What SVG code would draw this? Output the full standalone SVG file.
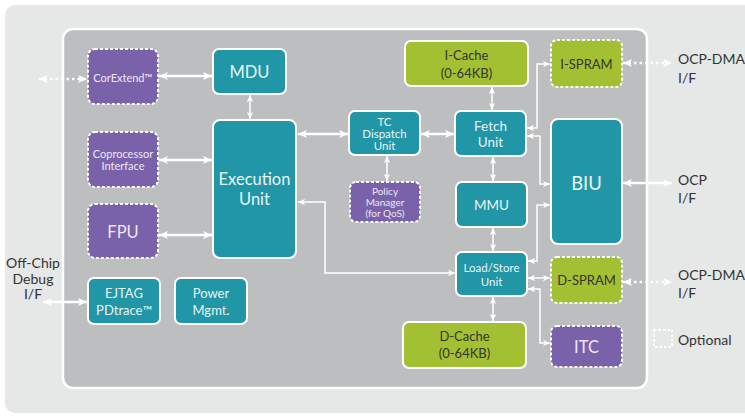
<svg xmlns="http://www.w3.org/2000/svg" width="745" height="417" viewBox="0 0 745 417">
<defs>
<style>
.t{font-family:Lato,"Open Sans","Liberation Sans",sans-serif;text-anchor:middle;dominant-baseline:central}
.lbl{font-family:Lato,"Open Sans","Liberation Sans",sans-serif;fill:#333;font-size:14px;dominant-baseline:central}
.teal{fill:#2196a6;stroke:#fff;stroke-width:2}
.purple{fill:#7962aa;stroke:#fff;stroke-width:2;stroke-dasharray:3 2}
.green{fill:#a3c032;stroke:#fff;stroke-width:2}
.greend{fill:#a3c032;stroke:#fff;stroke-width:2;stroke-dasharray:3 2}
.tw{fill:#e8f5f6}
.tp{fill:#ece7f5}
.td{fill:#333}
.thick{fill:none;stroke:#fff;stroke-width:2.5;marker-start:url(#ah);marker-end:url(#ah)}
.thin{fill:none;stroke:#fff;stroke-width:1.5;marker-start:url(#as);marker-end:url(#as)}
.dot{fill:none;stroke:#fff;stroke-width:2.5;stroke-dasharray:2.5 3;marker-start:url(#ah);marker-end:url(#ah)}
</style>
<marker id="ah" viewBox="0 0 10 10" refX="10" refY="5" markerWidth="9" markerHeight="9" markerUnits="userSpaceOnUse" orient="auto-start-reverse"><path d="M0,0.5 L10,5 L0,9.5 L2.5,5 z" fill="#fff"/></marker>
<marker id="as" viewBox="0 0 10 10" refX="10" refY="5" markerWidth="7" markerHeight="7" markerUnits="userSpaceOnUse" orient="auto-start-reverse"><path d="M0,0.5 L10,5 L0,9.5 L2.5,5 z" fill="#fff"/></marker>
</defs>
<rect x="0" y="0" width="745" height="417" fill="#fff"/>
<rect x="5" y="5" width="750" height="408" rx="10" fill="#e6e7e7"/>
<rect x="63" y="29" width="584" height="359" rx="10" fill="#bdbec0" stroke="#fff" stroke-width="2.5"/>

<g id="connectors">
<path class="dot" d="M39,79 H87"/>
<path class="thick" d="M159,76 H212"/>
<path class="thin" d="M250,95 V119"/>
<path class="thick" d="M159,160 H212"/>
<path class="thick" d="M159,235 H212"/>
<path class="thick" d="M43,302 H87"/>
<path class="thick" d="M298,134 H348"/>
<path class="thick" d="M421,134 H454"/>
<path class="thin" d="M492,87 V110"/>
<path class="thin" d="M387,156 V181"/>
<path class="thin" d="M493,157 V181"/>
<path class="thin" d="M493,228 V251"/>
<path class="thin" d="M493,297 V321"/>
<path class="thin" d="M455,273 H325 V202 H298"/>
<path class="thin" d="M527,128 H537 V64 H550"/>
<path class="thin" d="M527,136 H540 V184 H550"/>
<path class="thin" d="M528,261 H537 V205 H550"/>
<path class="thin" d="M528,278 H550"/>
<path class="thin" d="M528,289 H540 V343 H550"/>
<path class="dot" d="M623,63 H672"/>
<path class="thick" d="M623,183 H672"/>
<path class="dot" d="M623,282 H672"/>
</g>

<g id="corextend"><rect class="purple" x="88" y="49" width="70" height="55" rx="7"/><text class="t tp" x="123" y="77" font-size="11">CorExtend™</text></g>
<g id="mdu"><rect class="teal" x="213" y="49" width="73" height="45" rx="6"/><text class="t tw" x="249.5" y="72" font-size="16.5">MDU</text></g>
<g id="coprocessor"><rect class="purple" x="88" y="132" width="70" height="55" rx="7"/><text class="t tp" x="123" y="153" font-size="11">Coprocessor</text><text class="t tp" x="123" y="165" font-size="11">Interface</text></g>
<g id="fpu"><rect class="purple" x="88" y="204" width="70" height="54" rx="7"/><text class="t tp" x="123" y="232" font-size="16.5">FPU</text></g>
<g id="execution"><rect class="teal" x="213" y="120" width="83" height="138" rx="7"/><text class="t tw" x="254.5" y="179" font-size="16.5">Execution</text><text class="t tw" x="254.5" y="199" font-size="16.5">Unit</text></g>
<g id="ejtag"><rect class="teal" x="88" y="278" width="72" height="46" rx="6"/><text class="t tw" x="124" y="293" font-size="13">EJTAG</text><text class="t tw" x="124" y="310" font-size="13">PDtrace™</text></g>
<g id="power"><rect class="teal" x="175" y="278" width="72" height="46" rx="6"/><text class="t tw" x="211" y="293" font-size="13">Power</text><text class="t tw" x="211" y="310" font-size="13">Mgmt.</text></g>
<g id="tcdispatch"><rect class="teal" x="349" y="111" width="71" height="44" rx="6"/><text class="t tw" x="384.5" y="121" font-size="11.5">TC</text><text class="t tw" x="384.5" y="133" font-size="11.5">Dispatch</text><text class="t tw" x="384.5" y="145" font-size="11.5">Unit</text></g>
<g id="policy"><rect class="purple" x="350" y="182" width="70" height="40" rx="6"/><text class="t tp" x="385" y="191" font-size="10">Policy</text><text class="t tp" x="385" y="202" font-size="10">Manager</text><text class="t tp" x="385" y="212.5" font-size="10">(for QoS)</text></g>
<g id="icache"><rect class="green" x="405" y="41" width="123" height="45" rx="6"/><text class="t td" x="466.5" y="55" font-size="13">I-Cache</text><text class="t td" x="466.5" y="73" font-size="13">(0-64KB)</text></g>
<g id="fetch"><rect class="teal" x="455" y="111" width="71" height="45" rx="6"/><text class="t tw" x="490.5" y="126" font-size="13.5">Fetch</text><text class="t tw" x="490.5" y="142" font-size="13.5">Unit</text></g>
<g id="mmu"><rect class="teal" x="456" y="182" width="71" height="45" rx="6"/><text class="t tw" x="491.5" y="205" font-size="13.5">MMU</text></g>
<g id="loadstore"><rect class="teal" x="456" y="252" width="71" height="44" rx="6"/><text class="t tw" x="491.5" y="267" font-size="11.5">Load/Store</text><text class="t tw" x="491.5" y="281" font-size="11.5">Unit</text></g>
<g id="dcache"><rect class="green" x="403" y="322" width="123" height="46" rx="6"/><text class="t td" x="464.5" y="336" font-size="13">D-Cache</text><text class="t td" x="464.5" y="353" font-size="13">(0-64KB)</text></g>
<g id="ispram"><rect class="greend" x="551" y="40" width="71" height="47" rx="6"/><text class="t td" x="586.5" y="63.5" font-size="13">I-SPRAM</text></g>
<g id="biu"><rect class="teal" x="551" y="119" width="71" height="125" rx="7"/><text class="t tw" x="586.5" y="183" font-size="18.5">BIU</text></g>
<g id="dspram"><rect class="greend" x="551" y="257" width="71" height="46" rx="6"/><text class="t td" x="586.5" y="280" font-size="13">D-SPRAM</text></g>
<g id="itc"><rect class="purple" x="551" y="326" width="71" height="41" rx="6"/><text class="t tp" x="586.5" y="346.5" font-size="16.5">ITC</text></g>

<g id="labels">
<text class="lbl" x="33" y="262.5" text-anchor="middle" font-size="13">Off-Chip</text>
<text class="lbl" x="33" y="278" text-anchor="middle" font-size="13">Debug</text>
<text class="lbl" x="33" y="293.5" text-anchor="middle" font-size="13">I/F</text>
<text class="lbl" x="678" y="58" font-size="13.5">OCP-DMA</text>
<text class="lbl" x="678" y="77" font-size="13.5">I/F</text>
<text class="lbl" x="678" y="179">OCP</text>
<text class="lbl" x="678" y="197">I/F</text>
<text class="lbl" x="678" y="274" font-size="13.5">OCP-DMA</text>
<text class="lbl" x="678" y="292" font-size="13.5">I/F</text>
<rect x="654" y="330" width="18" height="17" fill="none" stroke="#fff" stroke-width="2" stroke-dasharray="2.5 2"/>
<text class="lbl" x="678" y="339">Optional</text>
</g>
</svg>
